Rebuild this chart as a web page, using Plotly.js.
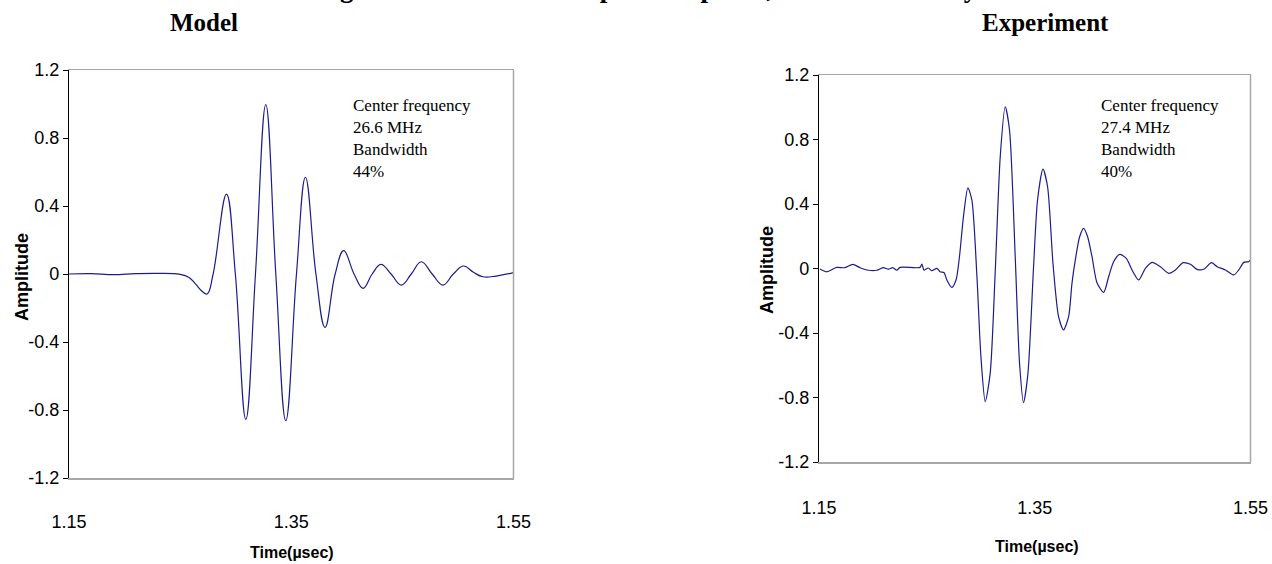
<!DOCTYPE html>
<html>
<head>
<meta charset="utf-8">
<script src="https://cdn.plot.ly/plotly-3.0.1.min.js"></script>
<style>
html,body{margin:0;padding:0;background:#fff;}
#chart{width:1272px;height:564px;}
</style>
</head>
<body>
<div id="chart"></div>
<script>
// ---- data ----
var modelTime = [1.150, 1.170, 1.190, 1.210, 1.230, 1.250, 1.258, 1.264, 1.2695, 1.2743,
  1.2797, 1.2917, 1.2997, 1.3091, 1.3178, 1.3271, 1.3361, 1.3451, 1.3547, 1.3628,
  1.3722, 1.3804, 1.3895, 1.3972, 1.4065, 1.4146, 1.4228, 1.4307, 1.4398, 1.4490,
  1.4580, 1.4670, 1.4768, 1.4865, 1.4958, 1.5050, 1.5140, 1.5224, 1.5344, 1.5500];
var modelAmp = [0, 0.002, -0.004, 0.002, 0.004, -0.002, -0.02, -0.06, -0.10, -0.118,
  0, 0.47, 0, -0.855, 0, 0.996, 0, -0.863, 0, 0.569,
  0, -0.314, 0, 0.137, 0, -0.084, 0, 0.057, 0, -0.065,
  0, 0.072, 0, -0.065, 0, 0.047, 0.010, -0.016, -0.012, 0.008];

var expTime = [1.1509, 1.1571, 1.1664, 1.1741, 1.1813, 1.1881, 1.1958, 1.2036, 1.2097, 1.2143,
  1.2184, 1.2221, 1.2252, 1.2437, 1.2453, 1.2474, 1.2514, 1.2546, 1.2592, 1.2623,
  1.2660, 1.2685, 1.2732, 1.2771, 1.2802, 1.2839, 1.2880, 1.2917, 1.2964, 1.3001,
  1.3041, 1.3087, 1.3133, 1.3180, 1.3226, 1.3266, 1.3319, 1.3359, 1.3396, 1.3437,
  1.3489, 1.3526, 1.3576, 1.3619, 1.3669, 1.3721, 1.3767, 1.3814, 1.3845, 1.3876,
  1.3916, 1.3953, 1.3990, 1.4031, 1.4077, 1.4139, 1.4185, 1.4231, 1.4287, 1.4349,
  1.4402, 1.4463, 1.4526, 1.4588, 1.4665, 1.4742, 1.4804, 1.4875, 1.4943, 1.5005,
  1.5067, 1.5138, 1.5191, 1.5268, 1.5345, 1.5391, 1.5438, 1.5484, 1.5500];
var expAmp = [-0.003, -0.020, 0.007, 0.005, 0.026, 0.005, -0.011, -0.011, 0.005, -0.004,
  0.005, -0.011, 0.007, 0.007, 0.028, -0.010, 0.003, -0.014, 0.001, -0.020,
  -0.026, -0.071, -0.117, -0.070, 0.073, 0.320, 0.500, 0.425, -0.050, -0.547,
  -0.826, -0.650, -0.030, 0.693, 1.003, 0.859, 0.073, -0.588, -0.832, -0.650,
  0.011, 0.425, 0.617, 0.507, 0.032, -0.299, -0.381, -0.299, -0.092, 0.053,
  0.197, 0.249, 0.197, 0.073, -0.088, -0.148, -0.051, 0.042, 0.088, 0.063,
  -0.009, -0.071, 0.001, 0.038, 0.011, -0.030, -0.009, 0.036, 0.026, -0.005,
  -0.005, 0.036, 0.011, -0.009, -0.040, -0.009, 0.038, 0.042, 0.053];

var yTickVals = [-1.2, -0.8, -0.4, 0, 0.4, 0.8, 1.2];
var yTickText = ["-1.2", "-0.8", "-0.4", "0", "0.4", "0.8", "1.2"];
var xTickVals = [1.15, 1.35, 1.55];
var xTickText = ["1.15", "1.35", "1.55"];

var panelTitles = ["Model", "Experiment"];
var noteModel = ["Center frequency", "26.6 MHz", "Bandwidth", "44%"];
var noteExp = ["Center frequency", "27.4 MHz", "Bandwidth", "40%"];
var figTitle = "Figure 4: Normalized impulse response, 16-element array";

// ---- layout helpers ----
var W = 1272, H = 564;
function fx(p){ return p / W; }
function fy(p){ return 1 - p / H; }

var lineColor = "#1c1c8c";
var tickFont = {family: "Liberation Sans Narrow, Arial Narrow, Liberation Sans, Arial, sans-serif", size: 18, color: "#000"};
var borderGray = "#a6a6a6";

function xAxis(d0, d1, anchor, standoff){
  return {
    domain: [d0, d1], anchor: anchor, range: [1.15, 1.55],
    tickmode: "array", tickvals: xTickVals, ticktext: xTickText,
    ticks: "", ticklabelstandoff: standoff, tickfont: tickFont,
    showgrid: false, zeroline: false,
    showline: true, linecolor: borderGray, linewidth: 1.5, mirror: true,
    fixedrange: true
  };
}
function yAxis(d0, d1, anchor){
  return {
    domain: [d0, d1], anchor: anchor, range: [-1.2, 1.2],
    tickmode: "array", tickvals: yTickVals, ticktext: yTickText,
    ticks: "outside", ticklen: 5, tickcolor: "#000", tickwidth: 1,
    tickfont: tickFont,
    showgrid: false, zeroline: false,
    showline: true, linecolor: "#000", linewidth: 1.2,
    fixedrange: true
  };
}

var traces = [
  {x: modelTime, y: modelAmp, xaxis: "x", yaxis: "y", type: "scatter", mode: "lines",
   line: {color: lineColor, width: 1.2, shape: "spline", smoothing: 1.2}, hoverinfo: "skip"},
  {x: expTime, y: expAmp, xaxis: "x2", yaxis: "y2", type: "scatter", mode: "lines",
   line: {color: lineColor, width: 1.2, shape: "spline", smoothing: 0.7}, hoverinfo: "skip"}
];

var serif = "Liberation Serif, Times New Roman, serif";
var sansB = "Liberation Sans, Arial, sans-serif";
var narrowB = "Liberation Sans Narrow, Arial Narrow, Liberation Sans, Arial, sans-serif";

var annotations = [
  {text: "<b>" + figTitle + "</b>", xref: "paper", yref: "paper", x: fx(647), y: fy(-12),
   xanchor: "center", yanchor: "middle", showarrow: false, font: {family: serif, size: 27, color: "#000"}},
  {text: "<b>" + panelTitles[0] + "</b>", xref: "paper", yref: "paper", x: fx(204), y: fy(22),
   xanchor: "center", yanchor: "middle", showarrow: false, font: {family: serif, size: 25, color: "#000"}},
  {text: "<b>" + panelTitles[1] + "</b>", xref: "paper", yref: "paper", x: fx(1045), y: fy(22),
   xanchor: "center", yanchor: "middle", showarrow: false, font: {family: serif, size: 25, color: "#000"}},
  {text: noteModel.join("<br>"), xref: "paper", yref: "paper", x: fx(351), y: fy(94),
   xanchor: "left", yanchor: "top", align: "left", showarrow: false, font: {family: serif, size: 17, color: "#000"}},
  {text: noteExp.join("<br>"), xref: "paper", yref: "paper", x: fx(1099), y: fy(94),
   xanchor: "left", yanchor: "top", align: "left", showarrow: false, font: {family: serif, size: 17, color: "#000"}},
  {text: "<b>Amplitude</b>", xref: "paper", yref: "paper", x: fx(22), y: fy(277), textangle: -90,
   xanchor: "center", yanchor: "middle", showarrow: false, font: {family: sansB, size: 18, color: "#000"}},
  {text: "<b>Amplitude</b>", xref: "paper", yref: "paper", x: fx(767), y: fy(270), textangle: -90,
   xanchor: "center", yanchor: "middle", showarrow: false, font: {family: sansB, size: 18, color: "#000"}},
  {text: "<b>Time(µsec)</b>", xref: "paper", yref: "paper", x: fx(292), y: fy(552),
   xanchor: "center", yanchor: "middle", showarrow: false, font: {family: narrowB, size: 16, color: "#000"}},
  {text: "<b>Time(µsec)</b>", xref: "paper", yref: "paper", x: fx(1037), y: fy(546),
   xanchor: "center", yanchor: "middle", showarrow: false, font: {family: narrowB, size: 16, color: "#000"}}
];

var shapes = [
  {type: "line", xref: "x domain", yref: "y domain", x0: 1, x1: 1, y0: 0, y1: 1,
   line: {color: borderGray, width: 1.5}},
  {type: "line", xref: "x2 domain", yref: "y2 domain", x0: 1, x1: 1, y0: 0, y1: 1,
   line: {color: borderGray, width: 1.5}}
];

var layout = {
  width: W, height: H,
  margin: {l: 0, r: 0, t: 0, b: 0, pad: 0},
  paper_bgcolor: "#fff", plot_bgcolor: "#fff",
  showlegend: false,
  xaxis: xAxis(fx(69), fx(513.5), "y", 27),
  yaxis: yAxis(fy(478), fy(70), "x"),
  xaxis2: xAxis(fx(819), fx(1250.5), "y2", 29),
  yaxis2: yAxis(fy(462), fy(75), "x2"),
  annotations: annotations,
  shapes: shapes
};

Plotly.newPlot("chart", traces, layout, {displayModeBar: false, staticPlot: true});
</script>
</body>
</html>
